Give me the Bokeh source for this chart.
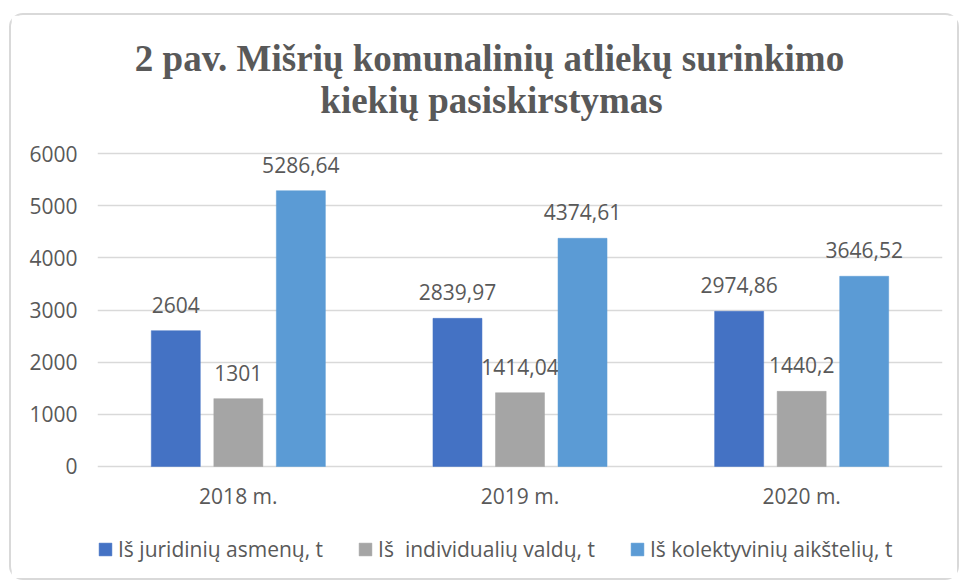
from bokeh.plotting import figure
from bokeh.models import ColumnDataSource, FactorRange, Legend, LegendItem, Label, Range1d, FixedTicker
from bokeh.transform import dodge
from bokeh.core.properties import value
from bokeh.embed import file_html
from bokeh.resources import INLINE

# ---- data ----
years = ["2018 m.", "2019 m.", "2020 m."]
juridiniu = [2604, 2839.97, 2974.86]
individualiu = [1301, 1414.04, 1440.2]
kolektyviniu = [5286.64, 4374.61, 3646.52]
series_names = ["Iš juridinių asmenų, t", "Iš  individualių valdų, t", "Iš kolektyvinių aikštelių, t"]
colors = ["#4472C4", "#A5A5A5", "#5B9BD5"]
y_ticks = [0, 1000, 2000, 3000, 4000, 5000, 6000]
title_lines = ["2 pav. Mišrių komunalinių atliekų surinkimo", "kiekių pasiskirstymas"]


def fmt(v):
    return f"{v:g}".replace(".", ",")


source = ColumnDataSource(dict(
    year=years,
    juridiniu=juridiniu,
    individualiu=individualiu,
    kolektyviniu=kolektyviniu,
    juridiniu_lbl=[fmt(v) for v in juridiniu],
    individualiu_lbl=[fmt(v) for v in individualiu],
    kolektyviniu_lbl=[fmt(v) for v in kolektyviniu],
))

FONT = "Open Sans"
TXT = "#595959"

# The plotting frame spans the whole chart area (title above, legend below live
# inside it); the value axis shows ticks 0..6000 only and the category axis is
# pinned at y = 0.
Y_MAX = 8550
Y_MIN = -2013

p = figure(
    x_range=FactorRange(*years, range_padding=0),
    y_range=Range1d(Y_MIN, Y_MAX),
    width=950, height=567,
    output_backend="svg", toolbar_location=None,
    min_border_left=86, min_border_right=19, min_border_top=5, min_border_bottom=11,
)
p.styles = {"margin-top": "13px", "margin-left": "9px",
            "border": "2px solid #D9D9D9", "border-radius": "14px",
            "box-sizing": "border-box"}
p.outline_line_color = None
p.background_fill_color = "white"
p.border_fill_color = "white"

offsets = [-0.222, 0.0, 0.222]
cols = ["juridiniu", "individualiu", "kolektyviniu"]
items = []
for col, off, color, name in zip(cols, offsets, colors, series_names):
    r = p.vbar(x=dodge("year", off, range=p.x_range), top=col, bottom=0, width=0.174, source=source,
               fill_color=color, line_color=color, line_width=0.5)
    items.append(LegendItem(label=name, renderers=[r]))
    p.text(x=dodge("year", off, range=p.x_range), y=col, text=col + "_lbl", source=source,
           text_align="center", text_baseline="alphabetic", y_offset=-26,
           text_font=value(FONT), text_font_size="21px", text_color=TXT)

p.ygrid.grid_line_color = "#D9D9D9"
p.ygrid.grid_line_width = 1.5
p.xgrid.visible = False
p.yaxis.ticker = FixedTicker(ticks=y_ticks)
p.xaxis.fixed_location = 0

for ax in (p.xaxis[0], p.yaxis[0]):
    ax.axis_line_color = None
    ax.major_tick_line_color = None
    ax.minor_tick_line_color = None
    ax.major_tick_out = 0
    ax.major_tick_in = 0
    ax.major_label_text_font = FONT
    ax.major_label_text_font_size = "21px"
    ax.major_label_text_color = TXT
p.yaxis.major_label_standoff = 20
p.xaxis.major_label_standoff = 16

legend = Legend(items=items, orientation="horizontal", location=(0, 8),
                label_text_font=FONT, label_text_font_size="21px", label_text_color=TXT,
                glyph_width=16, glyph_height=16, label_standoff=5, spacing=34,
                padding=0, margin=0, border_line_color=None, background_fill_alpha=0)
p.add_layout(legend)

# two-line chart title (positions in px from the frame's bottom-left)
for txt, sx, sy in ((title_lines[0], 392, 513), (title_lines[1], 394, 471)):
    p.add_layout(Label(x=sx, y=sy, x_units="screen", y_units="screen", text=txt,
                       text_align="center", text_baseline="middle",
                       text_font="Liberation Serif", text_font_size="37px",
                       text_font_style="bold", text_color=TXT))

open("out.html", "w").write(file_html(p, INLINE))
